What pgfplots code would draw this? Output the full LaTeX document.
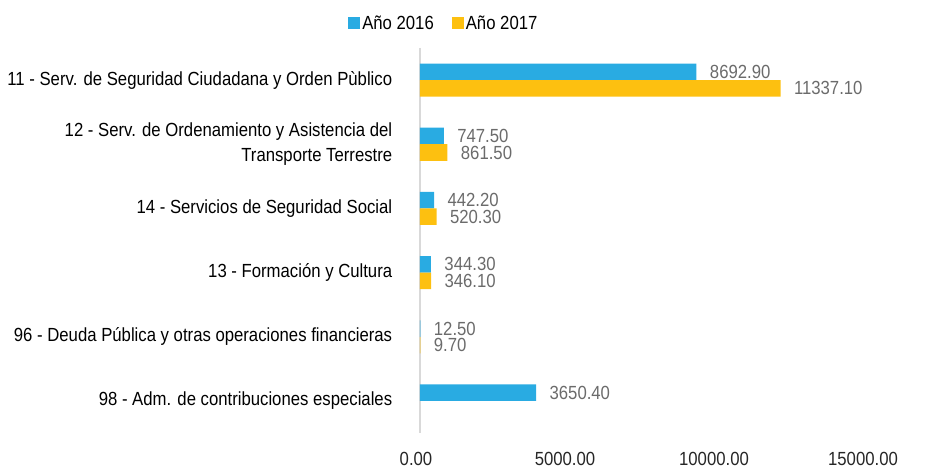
\documentclass[border=0pt]{standalone}
\usepackage{fontspec}
\setmainfont{Liberation Sans}[FakeStretch=0.88]
\usepackage{pgfplots}
\pgfplotsset{compat=1.18}
\definecolor{c2016}{HTML}{29ABE2}
\definecolor{c2017}{HTML}{FDC010}
\definecolor{lblgray}{HTML}{6B6B6B}
\definecolor{axgray}{HTML}{D9D9D9}

\begin{document}
\begin{tikzpicture}
\useasboundingbox (-420pt,-37pt) rectangle (509pt,433pt);
\begin{axis}[
  at={(0pt,0pt)}, anchor=south west,
  scale only axis,
  width=477pt, height=385pt,
  xbar,
  bar width=16.5pt,
  xmin=0, xmax=15000,
  ymin=-0.5, ymax=5.5,
  y dir=reverse,
  scaled x ticks=false,
  xtick={0,5000,10000,15000},
  xticklabel={\pgfmathprintnumber[fixed,fixed zerofill,precision=2,1000 sep={},assume math mode=true]{\tick}},
  /pgf/number format/assume math mode=true,
  % labels sit a little left of their ticks, as in the source chart
  xticklabel style={font=\fontsize{19}{22}\selectfont, text=black!85, yshift=-16pt,
    xshift={-4pt-10pt*\ticknum}},
  ytick={0,1,2,3,4,5},
  yticklabels={
    11 - Serv. de Seguridad Ciudadana y Orden Pùblico,
    {12 - Serv. de Ordenamiento y Asistencia del\\Transporte Terrestre},
    14 - Servicios de Seguridad Social,
    13 - Formación y Cultura,
    96 - Deuda Pública y otras operaciones financieras,
    98 - Adm. de contribuciones especiales},
  yticklabel style={font=\fontsize{19}{25}\selectfont, align=right, text=black, xshift=-20pt},
  axis lines*=left,
  x axis line style={draw=none},
  y axis line style={draw=axgray, line width=1.5pt, -},
  major tick style={draw=none},
  point meta=explicit symbolic,
  nodes near coords,
  nodes near coords style={font=\fontsize{19}{22}\selectfont, text=lblgray, anchor=west, xshift=10pt},
  legend columns=2,
  legend style={draw=none, at={(0.05,1.065)}, anchor=center,
    font=\fontsize{19}{22}\selectfont, text=black,
    /tikz/every even column/.append style={column sep=16pt}},
  legend image code/.code={\fill[#1,draw=none] (0pt,-6pt) rectangle (12pt,6pt);},
]
\addplot[fill=c2016, draw=none, bar shift=8.25pt] coordinates {
  (8692.90,0) [8692.90]
  (747.50,1) [747.50]
  (442.20,2) [442.20]
  (344.30,3) [344.30]
  (12.50,4) [12.50]
  (3650.40,5) [3650.40]
};
\addplot[fill=c2017, draw=none, bar shift=-8.25pt] coordinates {
  (11337.10,0) [11337.10]
  (861.50,1) [861.50]
  (520.30,2) [520.30]
  (346.10,3) [346.10]
  (9.70,4) [9.70]
};
\legend{Año 2016, Año 2017}
\end{axis}
\end{tikzpicture}
\end{document}
